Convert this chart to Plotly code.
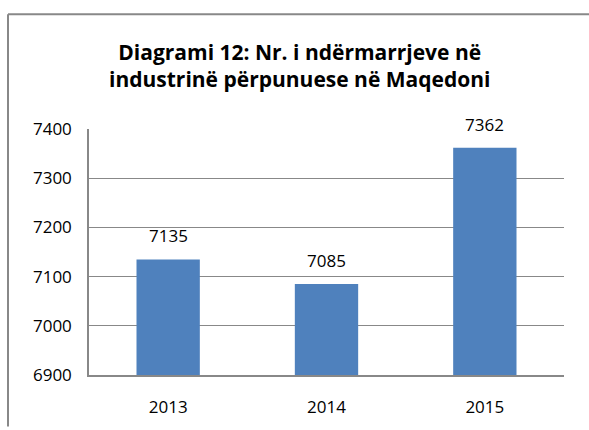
import plotly.graph_objects as go

years = ["2013", "2014", "2015"]
values = [7135, 7085, 7362]
title_lines = ["Diagrami 12: Nr. i ndërmarrjeve në", "industrinë përpunuese në Maqedoni"]
y_ticks = [6900, 7000, 7100, 7200, 7300, 7400]

W, H = 589, 430
L, R, T, B = 89, 25, 129, 48
pw, ph = W - L - R, H - T - B
FONT = "Open Sans, Lato, sans-serif"

def px_x(p):
    return (p - L) / pw

def px_y(p):
    return (H - B - p) / ph

pos = list(range(len(years)))

fig = go.Figure()
fig.add_trace(go.Bar(x=pos, y=values, marker=dict(color="#4F81BD", line=dict(width=0)),
                     width=0.4, customdata=years, hovertemplate="%{customdata}: %{y}<extra></extra>"))

for x, v in zip(pos, values):
    fig.add_annotation(x=x, y=v, xref="x", yref="y", text=str(v), showarrow=False, yanchor="bottom",
                       yshift=10, font=dict(size=17, color="#000000", family=FONT))

# chart-area frame (only top and left edges fall inside the picture)
fig.add_shape(type="line", xref="paper", yref="paper",
              x0=px_x(8), x1=px_x(W + 5), y0=px_y(11), y1=px_y(11),
              line=dict(color="#888888", width=2), layer="below")
fig.add_shape(type="line", xref="paper", yref="paper",
              x0=px_x(8), x1=px_x(8), y0=px_y(11), y1=px_y(H + 5),
              line=dict(color="#888888", width=2), layer="below")

fig.add_annotation(xref="paper", yref="paper", x=px_x(299), y=px_y(64), yanchor="middle",
                   text="<b>" + title_lines[0] + "<br>" + title_lines[1] + "</b>",
                   showarrow=False, align="center",
                   font=dict(size=21, color="#000000", family=FONT))

fig.update_layout(
    width=W, height=H,
    margin=dict(l=L, r=R, t=T, b=B),
    paper_bgcolor="white", plot_bgcolor="white",
    showlegend=False,
    font=dict(family=FONT, size=17, color="#000000"),
    xaxis=dict(range=[-0.5, 2.5], tickvals=pos, ticktext=years, showgrid=False, showline=True,
               linecolor="#888888", linewidth=1.5, zeroline=False,
               ticks="", ticklabelstandoff=16, tickfont=dict(size=17)),
    yaxis=dict(range=[6900, 7400], tickvals=y_ticks, showgrid=True, gridcolor="#888888",
               gridwidth=1.2, showline=True, linecolor="#888888", linewidth=1.5,
               zeroline=False, ticks="", ticklabelstandoff=12, tickfont=dict(size=17)),
)

fig.write_html("out.html", config={"displayModeBar": False},
               post_script="document.body.style.margin='0';document.body.style.overflow='hidden';")
